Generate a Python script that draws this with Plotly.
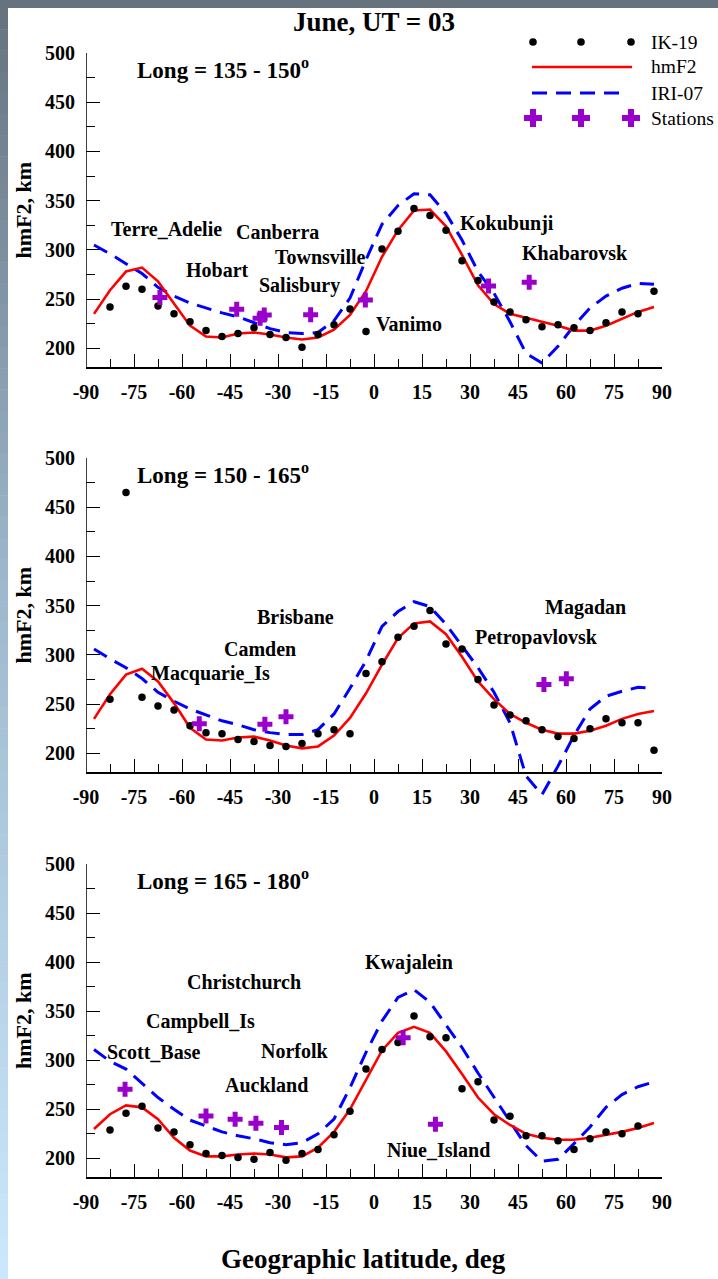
import plotly.graph_objects as go

W, H = 718, 1279
FONT = "Liberation Serif, Times New Roman, Times, serif"

# ---------------- data ----------------
LAT_MODEL = [-87.5, -82.5, -77.5, -72.5, -67.5, -62.5, -57.5, -52.5, -47.5, -42.5, -37.5, -32.5,
             -27.5, -22.5, -17.5, -12.5, -7.5, -2.5, 2.5, 7.5, 12.5, 17.5, 22.5, 27.5,
             32.5, 37.5, 42.5, 47.5, 52.5, 57.5, 62.5, 67.5, 72.5, 77.5, 82.5, 87.5]
LAT_OBS_A = [-82.5, -77.5, -72.5, -67.5, -62.5, -57.5, -52.5, -47.5, -42.5, -37.5, -32.5,
             -27.5, -22.5, -17.5, -12.5, -7.5, -2.5, 2.5, 7.5, 12.5, 17.5, 22.5, 27.5,
             32.5, 37.5, 42.5, 47.5, 52.5, 57.5, 62.5, 67.5, 72.5, 77.5, 82.5, 87.5]
LAT_OBS_C = [-82.5, -77.5, -72.5, -67.5, -62.5, -57.5, -52.5, -47.5, -42.5, -37.5, -32.5,
             -27.5, -22.5, -17.5, -12.5, -7.5, -2.5, 2.5, 7.5, 12.5, 17.5, 22.5, 27.5,
             32.5, 37.5, 42.5, 47.5, 52.5, 57.5, 62.5, 67.5, 72.5, 77.5, 82.5]

# Panel 1: Long = 135 - 150
IK19_1 = [242, 263, 260, 243, 235, 227, 218, 212, 215, 221, 214, 211, 201, 214, 224, 240, 217,
          301, 319, 342, 335, 320, 289, 269, 247, 237, 229, 222, 224, 221, 218, 226, 237, 235, 258]
HMF2_1 = [235, 259, 278, 282, 268, 246, 223, 212, 211, 215, 216, 214, 211, 209, 211, 219, 234, 258,
          293, 320, 340, 341, 324, 295, 264, 245, 235, 231, 227, 223, 218, 218, 223, 230, 237, 242]
IRI_1 = [305, 296, 286, 276, 262, 253, 246, 241, 236, 232, 226, 220, 216, 215, 216, 228, 251, 290,
         326, 345, 357, 356, 337, 310, 278, 256, 227, 195, 185, 202, 223, 241, 253, 261, 266, 265]
ST_LAT_1 = [-66.9, -42.9, -35.6, -34.3, -19.8, -2.7, 35.8, 48.5]
ST_H_1 = [251.5, 239.7, 230.5, 233.9, 234.0, 249.2, 263.4, 267.1]
NAMES_1 = ["Terre_Adelie", "Canberra", "Hobart", "Townsville", "Salisbury", "Vanimo", "Kokubunji", "Khabarovsk"]
NAME_LAT_1 = [-82.8, -43.8, -59.4, -31.6, -36.6, 0.0, 26.3, 45.6]
NAME_H_1 = [321, 318, 280, 293, 264, 225, 327, 297]

# Panel 2: Long = 150 - 165
IK19_2 = [255, 465, 257, 248, 244, 228, 221, 220, 214, 212, 208, 207, 210, 220, 224, 220, 281,
          293, 318, 329, 345, 311, 306, 275, 249, 239, 233, 224, 217, 215, 225, 235, 231, 231, 203]
HMF2_2 = [235, 260, 280, 286, 273, 251, 226, 214, 213, 216, 217, 213, 208, 205, 207, 218, 236, 261,
          290, 317, 332, 334, 321, 298, 273, 255, 240, 231, 224, 220, 220, 223, 228, 235, 240, 243]
IRI_2 = [306, 296, 287, 276, 262, 253, 245, 239, 233, 229, 224, 221, 219, 219, 224, 240, 266, 294,
         329, 344, 354, 349, 331, 309, 287, 262, 231, 177, 158, 187, 218, 245, 258, 263, 267, 266]
ST_LAT_2 = [-54.6, -34.1, -27.5, 53.1, 60.1]
ST_H_2 = [230.0, 229.5, 237.2, 270.0, 275.8]
NAMES_2 = ["Macquarie_Is", "Camden", "Brisbane", "Petropavlovsk", "Magadan"]
NAME_LAT_2 = [-70.3, -47.5, -37.2, 30.9, 52.8]
NAME_H_2 = [281, 306, 338, 318, 348]

# Panel 3: Long = 165 - 180
IK19_3 = [229, 246, 253, 231, 227, 214, 205, 203, 201, 199, 206, 198, 205, 209, 224, 248, 291,
          311, 318, 345, 324, 323, 271, 278, 239, 243, 223, 223, 218, 209, 220, 227, 225, 233]
HMF2_3 = [230, 245, 254, 252, 240, 221, 208, 202, 202, 204, 205, 204, 201, 202, 211, 227, 250, 280,
          310, 328, 334, 328, 309, 286, 262, 245, 234, 225, 221, 219, 219, 221, 224, 227, 231, 236]
IRI_3 = [311, 299, 291, 277, 262, 250, 239, 233, 227, 223, 220, 216, 214, 216, 225, 240, 272, 308,
         340, 364, 372, 359, 336, 313, 287, 262, 237, 213, 197, 199, 215, 232, 252, 265, 273, 278]
ST_LAT_3 = [-77.8, -52.5, -43.4, -36.9, -28.9, 9.1, 19.2]
ST_H_3 = [270.4, 243.3, 240.0, 235.9, 231.5, 322.9, 234.8]
NAMES_3 = ["Christchurch", "Campbell_Is", "Scott_Base", "Norfolk", "Auckland", "Kwajalein", "Niue_Island"]
NAME_LAT_3 = [-59.1, -71.9, -84.1, -35.9, -47.2, -3.4, 3.4]
NAME_H_3 = [380, 340, 308, 309, 275, 400, 209]

LONG_LABELS = ["Long = 135 - 150", "Long = 150 - 165", "Long = 165 - 180"]
X_TICKS = [-90, -75, -60, -45, -30, -15, 0, 15, 30, 45, 60, 75, 90]
X_TICKTEXT = ["-90", "-75", "-60", "-45", "-30", "-15", "0", "15", "30", "45", "60", "75", "90"]
X_MINOR = [-82.5, -67.5, -52.5, -37.5, -22.5, -7.5, 7.5, 22.5, 37.5, 52.5, 67.5, 82.5]
Y_TICKS = [200, 250, 300, 350, 400, 450, 500]
Y_MINOR = [225, 275, 325, 375, 425, 475]

PANELS = [
    dict(ik=IK19_1, lat_obs=LAT_OBS_A, hm=HMF2_1, iri=IRI_1, slat=ST_LAT_1, sh=ST_H_1,
         names=NAMES_1, nlat=NAME_LAT_1, nh=NAME_H_1),
    dict(ik=IK19_2, lat_obs=LAT_OBS_A, hm=HMF2_2, iri=IRI_2, slat=ST_LAT_2, sh=ST_H_2,
         names=NAMES_2, nlat=NAME_LAT_2, nh=NAME_H_2),
    dict(ik=IK19_3, lat_obs=LAT_OBS_C, hm=HMF2_3, iri=IRI_3, slat=ST_LAT_3, sh=ST_H_3,
         names=NAMES_3, nlat=NAME_LAT_3, nh=NAME_H_3),
]

# ---------------- layout geometry (pixels) ----------------
GEOM = [dict(top=53, axis=368), dict(top=458, axis=773), dict(top=864, axis=1178)]
X_LEFT, X_RIGHT = 86, 662
Y_LO, Y_AX, Y_HI = 150, 180, 500

RED = "#ff0000"
BLUE = "#0000ff"
PURPLE = "#9a00cc"


def pxx(p):
    return p / W


def pxy(p):
    return 1 - p / H


fig = go.Figure()
layout = dict(template="none", width=W, height=H, autosize=False,
              margin=dict(l=0, r=0, t=0, b=0, pad=0),
              paper_bgcolor="white", plot_bgcolor="rgba(0,0,0,0)",
              showlegend=False, font=dict(family=FONT, color="black"))
shapes = []
annotations = []

for i, (pan, g) in enumerate(zip(PANELS, GEOM)):
    n = i + 1
    xa = "x" if n == 1 else f"x{n}"
    ya = "y" if n == 1 else f"y{n}"
    s = (g["axis"] - g["top"]) / (Y_HI - Y_AX)
    dom_bottom = g["axis"] + (Y_AX - Y_LO) * s

    fig.add_trace(go.Scatter(x=LAT_MODEL, y=pan["iri"], mode="lines", xaxis=xa, yaxis=ya,
                             line=dict(color=BLUE, width=3, dash="15px,9px"), name="IRI-07"))
    fig.add_trace(go.Scatter(x=LAT_MODEL, y=pan["hm"], mode="lines", xaxis=xa, yaxis=ya,
                             line=dict(color=RED, width=2.6), name="hmF2"))
    fig.add_trace(go.Scatter(x=pan["lat_obs"], y=pan["ik"], mode="markers", xaxis=xa, yaxis=ya,
                             marker=dict(color="black", size=7.5), name="IK-19"))
    fig.add_trace(go.Scatter(x=pan["slat"], y=pan["sh"], mode="markers", xaxis=xa, yaxis=ya,
                             marker=dict(color=PURPLE, size=12.5, symbol="cross", line=dict(width=0)),
                             name="Stations"))

    layout["xaxis" if n == 1 else f"xaxis{n}"] = dict(
        domain=[pxx(X_LEFT), pxx(X_RIGHT)], range=[-90, 90], anchor="free", position=pxy(g["axis"]),
        automargin=False,
        showline=True, linecolor="black", linewidth=1.5, showgrid=False, zeroline=False,
        tickmode="array", tickvals=X_TICKS, ticktext=X_TICKTEXT, ticks="inside", ticklen=13,
        tickwidth=1.3, tickcolor="black", ticklabelstandoff=6,
        tickfont=dict(family=FONT, size=20, weight="bold", color="black"),
        minor=dict(tickmode="array", tickvals=X_MINOR, ticks="inside", ticklen=8, tickwidth=1.3,
                   tickcolor="black", showgrid=False))
    layout["yaxis" if n == 1 else f"yaxis{n}"] = dict(
        domain=[pxy(dom_bottom), pxy(g["top"])], range=[Y_LO, Y_HI], anchor=xa,
        automargin=False,
        showline=False, showgrid=False, zeroline=False,
        tickmode="array", tickvals=Y_TICKS, ticks="inside", ticklen=14, tickwidth=1.3,
        tickcolor="black", ticklabelstandoff=10,
        tickfont=dict(family=FONT, size=20, weight="bold", color="black"),
        minor=dict(tickmode="array", tickvals=Y_MINOR, ticks="inside", ticklen=9, tickwidth=1.3,
                   tickcolor="black", showgrid=False))
    shapes.append(dict(type="line", xref=xa, yref=ya, x0=-90, x1=-90, y0=Y_AX, y1=Y_HI,
                       line=dict(color="black", width=1.5)))

    annotations.append(dict(xref=xa, yref=ya, x=-74.7, y=484, xanchor="left", yanchor="middle",
                            showarrow=False, text=LONG_LABELS[i] + "<sup>o</sup>",
                            font=dict(family=FONT, size=23, weight="bold")))
    for name, la, hh in zip(pan["names"], pan["nlat"], pan["nh"]):
        annotations.append(dict(xref=xa, yref=ya, x=la, y=hh, xanchor="left", yanchor="middle",
                                showarrow=False, text=name,
                                font=dict(family=FONT, size=20, weight="bold")))
    annotations.append(dict(xref="paper", yref="paper", x=pxx(23), y=pxy((g["top"] + g["axis"]) / 2),
                            xanchor="center", yanchor="middle", textangle=-90, showarrow=False,
                            text="hmF2, km", font=dict(family=FONT, size=22, weight="bold")))

annotations.append(dict(xref="paper", yref="paper", x=pxx(374), y=pxy(22), xanchor="center",
                        yanchor="middle", showarrow=False, text="June, UT = 03",
                        font=dict(family=FONT, size=27, weight="bold")))
annotations.append(dict(xref="paper", yref="paper", x=pxx(363), y=pxy(1259), xanchor="center",
                        yanchor="middle", showarrow=False, text="Geographic latitude, deg",
                        font=dict(family=FONT, size=27, weight="bold")))

# ---------------- legend (drawn) ----------------
LEG_X = [533, 581, 631]
LEG_Y = [42, 67, 93, 118]
LEG_TEXT = ["IK-19", "hmF2", "IRI-07", "Stations"]
for cx in LEG_X:
    r = 3.8
    shapes.append(dict(type="circle", xref="paper", yref="paper", x0=pxx(cx - r), x1=pxx(cx + r),
                       y0=pxy(LEG_Y[0] + r), y1=pxy(LEG_Y[0] - r), fillcolor="black",
                       line=dict(width=0)))
shapes.append(dict(type="line", xref="paper", yref="paper", x0=pxx(532), x1=pxx(632),
                   y0=pxy(LEG_Y[1]), y1=pxy(LEG_Y[1]), line=dict(color=RED, width=2.6)))
shapes.append(dict(type="line", xref="paper", yref="paper", x0=pxx(532), x1=pxx(620),
                   y0=pxy(LEG_Y[2]), y1=pxy(LEG_Y[2]), line=dict(color=BLUE, width=3, dash="15px,9px")))


def plus_path(cx, cy, a, b):
    pts = [(cx - b, cy - a), (cx + b, cy - a), (cx + b, cy - b), (cx + a, cy - b), (cx + a, cy + b),
           (cx + b, cy + b), (cx + b, cy + a), (cx - b, cy + a), (cx - b, cy + b), (cx - a, cy + b),
           (cx - a, cy - b), (cx - b, cy - b)]
    return "M " + " L ".join(f"{pxx(x):.5f},{pxy(y):.5f}" for x, y in pts) + " Z"


for cx in LEG_X:
    shapes.append(dict(type="path", xref="paper", yref="paper", path=plus_path(cx, LEG_Y[3], 9, 3),
                       fillcolor=PURPLE, line=dict(width=0)))
for yy, t in zip(LEG_Y, LEG_TEXT):
    annotations.append(dict(xref="paper", yref="paper", x=pxx(649), y=pxy(yy), xanchor="left",
                            yanchor="middle", showarrow=False, text=t,
                            font=dict(family=FONT, size=19.5)))

# ---------------- slide frame (top bar + left gradient) ----------------
shapes.append(dict(type="rect", xref="paper", yref="paper", x0=0, x1=1, y0=pxy(8), y1=1,
                   fillcolor="#66737f", line=dict(width=0), layer="below"))
STOPS = [(0.0, (102, 115, 127)), (0.45, (158, 183, 204)), (1.0, (203, 232, 252))]
NSEG = 60


def grad(t):
    for (t0, c0), (t1, c1) in zip(STOPS[:-1], STOPS[1:]):
        if t0 <= t <= t1:
            f = (t - t0) / (t1 - t0)
            return "rgb(%d,%d,%d)" % tuple(round(a + (b - a) * f) for a, b in zip(c0, c1))
    return "rgb(%d,%d,%d)" % STOPS[-1][1]


for k in range(NSEG):
    y0p = 8 + (H - 8) * k / NSEG
    y1p = 8 + (H - 8) * (k + 1) / NSEG
    shapes.append(dict(type="rect", xref="paper", yref="paper", x0=0, x1=pxx(8),
                       y0=pxy(y1p + 0.5), y1=pxy(y0p), fillcolor=grad((k + 0.5) / NSEG),
                       line=dict(width=0), layer="below"))

layout["shapes"] = shapes
layout["annotations"] = annotations
fig.update_layout(**layout)
fig.write_html("out.html",
               post_script="document.body.style.margin='0px';document.body.style.overflow='hidden';")
